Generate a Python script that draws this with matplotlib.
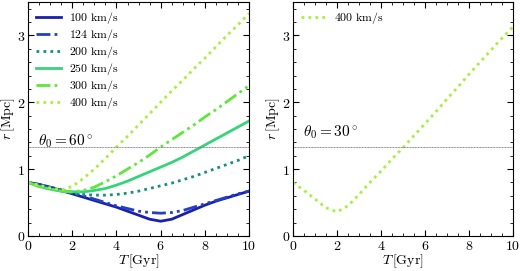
import matplotlib
matplotlib.use("Agg")
import matplotlib.pyplot as plt
from matplotlib.ticker import MultipleLocator

plt.rcParams['mathtext.fontset'] = 'cm'
plt.rcParams['font.family'] = ['DejaVu Serif']

# Left panel data (theta0 = 60 deg)
T = [0, 0.5, 1, 1.5, 2, 2.5, 3, 3.5, 4, 4.5, 5, 5.5, 6, 6.5, 7, 7.5, 8, 8.5, 9, 9.5, 10]
r100 = [0.80, 0.77, 0.73, 0.68, 0.63, 0.58, 0.53, 0.48, 0.43, 0.37, 0.31, 0.25, 0.22, 0.25, 0.32, 0.39, 0.46, 0.52, 0.57, 0.62, 0.67]
r124 = [0.80, 0.77, 0.73, 0.69, 0.64, 0.60, 0.55, 0.50, 0.45, 0.41, 0.37, 0.35, 0.34, 0.35, 0.38, 0.43, 0.48, 0.53, 0.58, 0.63, 0.67]
r200 = [0.80, 0.75, 0.71, 0.67, 0.64, 0.62, 0.61, 0.61, 0.62, 0.64, 0.67, 0.71, 0.75, 0.79, 0.84, 0.89, 0.95, 1.01, 1.07, 1.13, 1.20]
r250 = [0.80, 0.74, 0.70, 0.67, 0.66, 0.66, 0.68, 0.71, 0.76, 0.82, 0.89, 0.96, 1.03, 1.10, 1.18, 1.27, 1.36, 1.45, 1.54, 1.63, 1.72]
r300 = [0.80, 0.74, 0.70, 0.67, 0.66, 0.68, 0.73, 0.81, 0.90, 1.00, 1.10, 1.21, 1.33, 1.44, 1.55, 1.66, 1.78, 1.89, 2.01, 2.13, 2.25]
r400 = [0.80, 0.76, 0.72, 0.69, 0.74, 0.86, 1.00, 1.16, 1.33, 1.49, 1.66, 1.83, 2.00, 2.17, 2.33, 2.50, 2.66, 2.83, 3.00, 3.16, 3.33]

# Right panel data (theta0 = 30 deg)
r400b = [0.80, 0.68, 0.55, 0.42, 0.36, 0.45, 0.62, 0.80, 0.97, 1.15, 1.32, 1.50, 1.68, 1.86, 2.05, 2.23, 2.42, 2.60, 2.78, 2.96, 3.13]

r_ref = 1.33

labels = ["100", "124", "200", "250", "300", "400"]
colors = ["#1a1fb0", "#2140c2", "#1a8c86", "#36d47a", "#5ee63c", "#a8f03c"]
dashdot = (0, (5, 1.5, 1, 1.5, 1, 1.5))
dot = (0, (1, 1.5))
styles = ["-", dashdot, dot, "-", dashdot, dot]
data = [r100, r124, r200, r250, r300, r400]

fig = plt.figure(figsize=(5.2, 2.71), dpi=100)
ax1 = fig.add_axes([0.054, 0.1295, 0.425, 0.863])
ax2 = fig.add_axes([0.5635, 0.1295, 0.423, 0.863])

for lab, y, c, ls in zip(labels, data, colors, styles):
    ax1.plot(T, y, color=c, ls=ls, lw=2, label=r"$%s\ \mathrm{km/s}$" % lab)
ax2.plot(T, r400b, color=colors[5], ls=dot, lw=2, label=r"$400\ \mathrm{km/s}$")

for ax, th, ty in ((ax1, r"$\theta_0 = 60^\circ$", 1.42), (ax2, r"$\theta_0 = 30^\circ$", 1.55)):
    ax.axhline(r_ref, color="0.5", ls=(0, (1, 0.6)), lw=0.7)
    ax.text(0.45, ty, th, fontsize=11, va='center')
    ax.set_xlim(0, 10)
    ax.set_ylim(0, 3.5)
    ax.xaxis.set_major_locator(MultipleLocator(2))
    ax.xaxis.set_minor_locator(MultipleLocator(0.5))
    ax.yaxis.set_major_locator(MultipleLocator(1))
    ax.yaxis.set_minor_locator(MultipleLocator(0.2))
    ax.tick_params(which='both', direction='in', top=True, right=True, labelsize=10)
    ax.tick_params(which='major', length=4, pad=2)
    ax.tick_params(which='minor', length=2)
    ax.set_xticklabels([f"${int(v)}$" for v in ax.get_xticks()])
    ax.set_yticklabels([f"${int(v)}$" for v in ax.get_yticks()])
    ax.set_xlabel(r"$T\,[\mathrm{Gyr}]$", fontsize=10, labelpad=0)
    ax.set_ylabel(r"$r\,[\mathrm{Mpc}]$", fontsize=10, labelpad=0)
    ax.legend(loc='upper left', frameon=False, fontsize=8.5, handlelength=2.1,
              labelspacing=0.08, borderaxespad=0.3, handletextpad=0.7,
              borderpad=0.4)

fig.savefig("out.png", dpi=100)
